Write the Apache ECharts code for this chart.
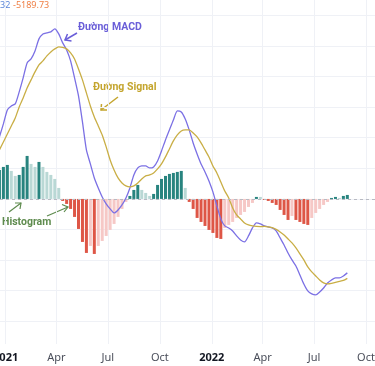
<!DOCTYPE html>
<html><head><meta charset="utf-8">
<script src="https://cdn.jsdelivr.net/npm/echarts@6/dist/echarts.min.js"></script>
<style>html,body{margin:0;padding:0;background:#fff;overflow:hidden}#c{width:375px;height:366px}</style>
</head><body><div id="c"></div>
<script>
const weekDates = [
'2020-12-21','2020-12-28',
'2021-01-04','2021-01-11','2021-01-18','2021-01-25','2021-02-01','2021-02-08','2021-02-15','2021-02-22',
'2021-03-01','2021-03-08','2021-03-15','2021-03-22','2021-03-29','2021-04-05','2021-04-12','2021-04-19','2021-04-26',
'2021-05-03','2021-05-10','2021-05-17','2021-05-24','2021-05-31','2021-06-07','2021-06-14','2021-06-21','2021-06-28',
'2021-07-05','2021-07-12','2021-07-19','2021-07-26','2021-08-02','2021-08-09','2021-08-16','2021-08-23','2021-08-30',
'2021-09-06','2021-09-13','2021-09-20','2021-09-27','2021-10-04','2021-10-11','2021-10-18','2021-10-25',
'2021-11-01','2021-11-08','2021-11-15','2021-11-22','2021-11-29','2021-12-06','2021-12-13','2021-12-20','2021-12-27',
'2022-01-03','2022-01-10','2022-01-17','2022-01-24','2022-01-31','2022-02-07','2022-02-14','2022-02-21','2022-02-28',
'2022-03-07','2022-03-14','2022-03-21','2022-03-28','2022-04-04','2022-04-11','2022-04-18','2022-04-25',
'2022-05-02','2022-05-09','2022-05-16','2022-05-23','2022-05-30','2022-06-06','2022-06-13','2022-06-20','2022-06-27',
'2022-07-04','2022-07-11','2022-07-18','2022-07-25','2022-08-01','2022-08-08','2022-08-15','2022-08-22','2022-08-29'
];
const macdLine = [
4052,4902,5817,6078,6209,6994,7909,8889,9150,9673,
10458,10784,10850,10915,11111,10784,10196,9739,9020,7909,
6732,5033,3203,2288,1373,719,131,-327,-654,-915,
-719,-392,65,719,1569,2026,2157,2157,2026,2092,
2484,3137,3856,4510,5163,5752,5686,5229,4510,3660,
2941,2288,1765,1176,458,-458,-1307,-1765,-1895,-2092,
-2418,-2680,-2810,-2418,-1895,-1569,-1634,-1765,-1830,-1895,
-2092,-2549,-3007,-3529,-3987,-4379,-4967,-5556,-6013,-6209,
-6275,-6078,-5817,-5490,-5294,-5163,-5163,-5033,-4832
];
const signalLine = [
3203,3726,4248,4771,5294,6013,6601,7255,7778,8301,
8758,9020,9346,9608,9804,9935,9902,9804,9543,9150,
8497,7778,6928,6078,5360,4771,4183,3399,2549,1895,
1373,1046,850,784,850,1046,1307,1503,1569,1699,
1961,2288,2745,3268,3791,4183,4444,4510,4510,4314,
4052,3660,3203,2745,2157,1699,1111,523,65,-588,
-1046,-1307,-1569,-1699,-1765,-1797,-1804,-1797,-1830,-1876,
-1993,-2157,-2353,-2614,-2876,-3203,-3595,-3987,-4444,-4771,
-5033,-5294,-5490,-5556,-5523,-5458,-5392,-5327,-5189.73
];
const histogram = [
1895,2092,2222,1830,1503,1569,2092,2810,2288,2092,
2418,2092,1765,1569,1307,719,-131,-327,-654,-1176,
-1961,-2810,-3529,-3072,-3595,-3072,-2745,-2418,-2026,-1634,
-1176,-654,-196,196,588,915,588,392,196,327,
915,1307,1503,1634,1699,1765,1830,719,-196,-654,
-1242,-1503,-1765,-2026,-2222,-2549,-2614,-1895,-1699,-1503,
-1242,-1046,-850,-523,-261,131,131,-65,-131,-261,
-392,-719,-1046,-1373,-1111,-1373,-1503,-1634,-1699,-1242,
-915,-654,-392,-196,65,131,65,196,261
];
const quarterTicks = ['2021-01-01','2021-04-01','2021-07-01','2021-10-01','2022-01-01','2022-04-01','2022-07-01','2022-10-01'];
const monthNames = ['Jan','Feb','Mar','Apr','May','Jun','Jul','Aug','Sep','Oct','Nov','Dec'];
const gridValues = [-8000,-6000,-4000,-2000,0,2000,4000,6000,8000,10000,12000];
const headerValues = ['32','-5189.73'];

const parse = s => +echarts.number.parseDate(s);
const qTicks = quarterTicks.map(parse);
const xs = weekDates.map(parse);

const histColors = {growAbove:'#28847f', fallAbove:'#b9d8d5', growBelow:'#f6c8c6', fallBelow:'#de5646'};
const histData = histogram.map((v, i) => {
  const prev = i > 0 ? histogram[i-1] : v;
  let c;
  if (v >= 0) c = v > prev ? histColors.growAbove : histColors.fallAbove;
  else c = v > prev ? histColors.growBelow : histColors.fallBelow;
  if (i === 0) c = histColors.growAbove;
  return {value: [xs[i], v], itemStyle: {color: c}};
});

const chart = echarts.init(document.getElementById('c'), null, {renderer: 'canvas'});
const purple = '#6a5ed8', gold = '#c4a52e', green = '#5e8b4e';
const annFont = {fontSize: 10.5, fontWeight: 'bold', fontFamily: 'Roboto'};
chart.setOption({
  animation: false,
  backgroundColor: '#ffffff',
  grid: {left: 0, right: 0, top: 0, bottom: 22, containLabel: false, outerBoundsMode: 'none'},
  xAxis: {
    type: 'value',
    min: parse('2020-12-22'), max: parse('2022-10-17'),
    axisLine: {show: false},
    axisTick: {show: false, customValues: qTicks},
    splitLine: {show: true, lineStyle: {color: '#eff1f6', width: 1}},
    axisLabel: {
      customValues: qTicks,
      margin: 8,
      fontSize: 11,
      fontFamily: 'Noto Sans',
      color: '#4a4e5a',
      hideOverlap: false,
      align: 'center',
      alignMinLabel: 'center', alignMaxLabel: 'center',
      showMinLabel: true, showMaxLabel: true,
      formatter: function (val) {
        const d = new Date(val);
        if (d.getMonth() === 0) return '{y|' + d.getFullYear() + '}';
        return monthNames[d.getMonth()];
      },
      rich: {y: {fontWeight: 'bold', color: '#131722', fontSize: 11, fontFamily: 'Noto Sans'}}
    }
  },
  yAxis: {
    type: 'value',
    min: -9480, max: 13000,
    axisLine: {show: false},
    axisLabel: {show: false},
    axisTick: {show: false, customValues: gridValues},
    splitLine: {show: true, lineStyle: {color: '#eff1f6', width: 1}}
  },
  series: [
    {
      name: 'Histogram', type: 'bar', barWidth: 3,
      data: histData,
      markLine: {
        silent: true, symbol: 'none', label: {show: false},
        lineStyle: {color: '#b8bac2', type: [3, 3], width: 1},
        data: [{yAxis: 0}]
      }
    },
    {
      name: 'MACD', type: 'line', showSymbol: false, smooth: 0.2,
      data: xs.map((d, i) => [d, macdLine[i]]),
      lineStyle: {color: '#7b70e4', width: 1.3}
    },
    {
      name: 'Signal', type: 'line', showSymbol: false, smooth: 0.2,
      data: xs.map((d, i) => [d, signalLine[i]]),
      lineStyle: {color: '#c9ae45', width: 1.3}
    }
  ],
  graphic: [
    {type: 'text', left: 0, top: 1, style: {text: headerValues[0], fill: '#5b86d8', fontSize: 9, fontFamily: 'Noto Sans'}},
    {type: 'text', left: 13, top: 1, style: {text: headerValues[1], fill: '#ef7f45', fontSize: 9, fontFamily: 'Noto Sans'}},
    {type: 'text', left: 78, top: 22, style: Object.assign({text: 'Đường MACD', fill: purple}, annFont)},
    {type: 'polyline', shape: {points: [[77, 33], [65, 40]]}, style: {stroke: purple, lineWidth: 1.5, fill: null}},
    {type: 'polyline', shape: {points: [[67.5, 34], [65, 40], [71.5, 41]]}, style: {stroke: purple, lineWidth: 1.5, fill: null}},
    {type: 'text', left: 93, top: 82, style: Object.assign({text: 'Đường Signal', fill: gold}, annFont)},
    {type: 'polyline', shape: {points: [[118, 97], [101, 110]]}, style: {stroke: gold, lineWidth: 1.5, fill: null}},
    {type: 'polyline', shape: {points: [[101.5, 104], [101, 110], [107, 110]]}, style: {stroke: gold, lineWidth: 1.5, fill: null}},
    {type: 'text', left: 2, top: 217, style: Object.assign({text: 'Histogram', fill: green}, annFont)},
    {type: 'polyline', shape: {points: [[9, 212], [21, 203]]}, style: {stroke: green, lineWidth: 1.2, fill: null}},
    {type: 'polyline', shape: {points: [[15, 203], [21, 203], [20, 209]]}, style: {stroke: green, lineWidth: 1.2, fill: null}},
    {type: 'polyline', shape: {points: [[47, 216], [68, 207]]}, style: {stroke: green, lineWidth: 1.2, fill: null}},
    {type: 'polyline', shape: {points: [[62, 204.5], [68, 207], [64, 212]]}, style: {stroke: green, lineWidth: 1.2, fill: null}}
  ]
});
</script>
</body></html>
